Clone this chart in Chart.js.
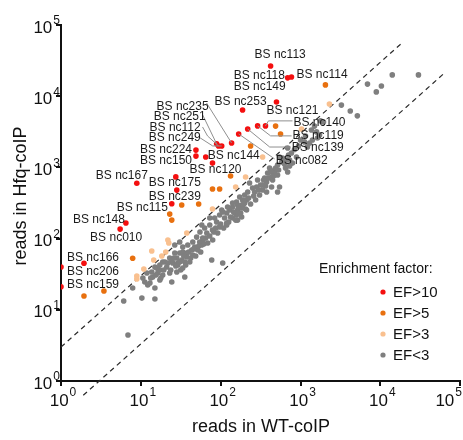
<!DOCTYPE html>
<html>
<head>
<meta charset="utf-8">
<script src="https://cdn.jsdelivr.net/npm/chart.js@4.4.1/dist/chart.umd.min.js"></script>
<style>
  html, body { margin: 0; padding: 0; background: #fff; }
</style>
</head>
<body>
<canvas id="chart" width="463" height="440"></canvas>
<script>
// reads in WT-coIP (x) vs reads in Hfq-coIP (y), one list per enrichment class
const efAbove10 = [
  [422, 26500], [690, 18100], [770, 18600], [500, 8300], [188, 6400],
  [218, 3460], [290, 3830], [364, 3830], [168, 2950], [137, 2200],
  [89, 2140], [94, 2000], [103, 2000], [49, 1750], [49, 1440],
  [65, 1400], [79, 1150], [8.9, 600], [27.4, 735], [28.2, 480],
  [24.4, 308], [6.5, 166], [5.5, 136], [1.94, 45], [1, 40], [1, 21]
];
const efAbove5 = [
  [2050, 14400], [487, 3800], [562, 2940], [237, 2000], [133, 757],
  [79, 497], [97, 497], [32.5, 296], [53, 306], [23, 221], [24.4, 182],
  [7.9, 53], [1.94, 15.6], [3.45, 18.4]
];
const efAbove3 = [
  [2300, 7770], [1030, 3460], [335, 1400], [205, 733], [154, 531],
  [79, 261], [37.6, 120], [21.8, 95.6], [22.4, 86.7], [13.7, 67],
  [20.5, 64.9], [18.3, 57], [14.5, 50], [10.9, 37.4], [8.9, 29.8], [8.9, 27.1]
];
const efBelow3 = [
  [30000, 19900], [14100, 19900], [6900, 14800], [10300, 13900], [8900, 11500],
  [3250, 7500], [4200, 6200], [5150, 5300],
  [1780, 4500], [1940, 4350], [1370, 3350], [1590, 3150], [1730, 2850],
  [1410, 2430], [1120, 2280], [1300, 2200], [1220, 1940], [690, 1870],
  [770, 1590], [890, 1400], [670, 1270], [546, 1400], [580, 1190],
  [630, 1115], [730, 1270], [794, 1150], [690, 862], [730, 1047],
  [516, 1080], [473, 919],
  [387, 834], [434, 733], [473, 862], [516, 782], [447, 665], [290, 665],
  [335, 566], [376, 624], [282, 531], [230, 604], [251, 514], [218, 451],
  [200, 409], [173, 384], [188, 348], [158, 326], [183, 296], [307, 409],
  [434, 531], [410, 981], [355, 710], [335, 482], [266, 451], [211, 348],
  [163, 296], [141, 278], [130, 252], [119, 229], [97, 214], [103, 252],
  [84, 195], [73, 195], [546, 531], [516, 451], [376, 451],
  [141, 316], [122, 278], [106, 236], [89, 171], [73, 155], [63, 141],
  [58, 155], [67, 120], [55, 124], [50, 105], [60, 95.5], [44.7, 89.5],
  [38.7, 81.3], [33.5, 76.2], [43.4, 69.2], [37.6, 62.8], [30.7, 62.8],
  [28.2, 53.4], [32.5, 50], [25.1, 45.4], [23, 53.4], [21.1, 39.9],
  [18.8, 46.9], [17.3, 36.2], [15, 39.9], [13.7, 34], [11.9, 32.9],
  [10.6, 28], [150, 229], [163, 252], [119, 155], [79, 132], [97, 146],
  [10.3, 14.6], [15, 14.2], [15, 20.2], [11.2, 24.6], [13, 23.8],
  [14.1, 28.9], [16.3, 32.9], [17.3, 26.2], [18.8, 30.8], [24.4, 24.6],
  [23, 32.9], [28.2, 34], [29, 45.4], [33.5, 38.6], [35.5, 28.9],
  [37.6, 55.2], [41, 46.9], [44.7, 58.9], [47.3, 76.2], [51.6, 69.2],
  [57.9, 81.3], [33.5, 64.9], [26.6, 62.8], [24.4, 50], [20, 46.9],
  [17.3, 42.6], [15.8, 38.6], [26.6, 81.3], [30.7, 89.5], [77.2, 50],
  [106, 45.4], [16.8, 36.2], [29, 42.6], [35.5, 46.9], [54.6, 89.5],
  [59.6, 102], [119, 166], [141, 195], [158, 214],
  [7.9, 20.2], [6.1, 13.3], [6.9, 4.43],
  [188, 269], [211, 252], [168, 229], [183, 201], [163, 182], [200, 316],
  [12.2, 22.3], [13.3, 28], [15.4, 30.8], [17.8, 28], [19.4, 36.2],
  [21.8, 45.4], [23.7, 36.2], [25.9, 53.4], [27.4, 41.2], [30.7, 46.9],
  [31.6, 36.2], [34.5, 57], [36.5, 42.6], [39.8, 64.9], [42.2, 53.4],
  [46, 71.5], [48.7, 57], [53.1, 78.7], [56.2, 64.9], [61.3, 84],
  [64.9, 102], [68.8, 86.7], [72.9, 109], [79.4, 95.5], [81.8, 124],
  [86.6, 141], [91.7, 120], [100, 160], [109, 141], [112, 195],
  [126, 171], [133, 201], [145, 236], [154, 182], [168, 269],
  [178, 229], [194, 306], [205, 261], [224, 372], [237, 306],
  [259, 396], [274, 348], [299, 482], [316, 566], [345, 665],
  [365, 548], [398, 710], [422, 862], [460, 757], [487, 981],
  [531, 919], [596, 1355], [649, 981], [708, 1494], [841, 1780],
  [944, 2000], [1000, 2430], [1155, 2760], [1496, 3800], [1631, 2590]
];

// 3-fold lines (y = 3x and y = x/3)
const foldUp = [[1, 3], [18000, 54000]];
const foldDown = [[1.9, 0.63], [63000, 21000]];

const xTicks = [1, 10, 100, 1000, 10000, 100000];
const yTicks = [1, 10, 100, 1000, 10000, 100000];

const classNames = ["EF>10", "EF>5", "EF>3", "EF<3"];
const legendTitle = "Enrichment factor:";
const xTitle = "reads in WT-coIP";
const yTitle = "reads in Hfq-coIP";

// labelled sRNAs and the index of their point in efAbove10
const labelNames = [
  "BS nc113", "BS nc118", "BS nc149", "BS nc114", "BS nc253", "BS nc121",
  "BS nc140", "BS nc119", "BS nc139", "BS nc082", "BS nc235", "BS nc251",
  "BS nc112", "BS nc249", "BS nc224", "BS nc150", "BS nc144", "BS nc120",
  "BS nc167", "BS nc175", "BS nc239", "BS nc115", "BS nc148", "BS nc010",
  "BS nc166", "BS nc206", "BS nc159"
];
const labelPoints = [0, 1, 1, 2, 4, 3, 7, 6, 5, 8, 9, 10, 11, 12, 13, 14, 15, 16, 17, 18, 19, 20, 21, 22, 23, 24, 25];

// text offset (px) from the point, plus optional leader polyline
const labelLayout = [
  { dx: -16, dy: -11 }, { dx: -54, dy: -2.5 }, { dx: -54, dy: 9 }, { dx: 5, dy: -2 },
  { dx: -28, dy: -8 }, { dx: -10, dy: 8.5 },
  { dx: 28, dy: -3, leader: [[0, 0], [3, -5], [27, -5]] },
  { dx: 35, dy: 9.5, leader: [[0, 0], [13, 10], [34, 10]] },
  { dx: 44, dy: 19, leader: [[0, 0], [22, 18], [43, 18]] },
  { dx: 37, dy: 27, leader: [[0, 0], [36, 25]] },
  { dx: -75, dy: -36.5, leader: [[-25, -40], [0, 0]] },
  { dx: -63, dy: -27, leader: [[-14, -29], [0, 0]] },
  { dx: -69, dy: -18.5, leader: [[-16, -19], [-11, -10], [0, 0]] },
  { dx: -73, dy: -8, leader: [[-23, -9], [-9, 0], [0, 0]] },
  { dx: -56, dy: 0 }, { dx: -56, dy: 4.5 }, { dx: 2, dy: -1 }, { dx: -23, dy: 7 },
  { dx: -41, dy: -7.5 }, { dx: -27, dy: 6 }, { dx: -28, dy: 6.5 }, { dx: -55, dy: 3.5 },
  { dx: -53, dy: -3 }, { dx: -30, dy: 9 }, { dx: -17, dy: -5.5 }, { dx: 6, dy: 5 }, { dx: 6, dy: -2.5 }
];

const colors = ["#f40f0f", "#e8700f", "#f9c08f", "#7f7f7f"];
const FONT = "'Liberation Sans', Arial, sans-serif";

const toXY = (arr) => arr.map(([x, y]) => ({ x, y }));

const pointSet = (data, color) => ({
  data: toXY(data),
  backgroundColor: color,
  borderWidth: 0,
  pointRadius: 2.8,
  pointHoverRadius: 2.8,
});

const foldLine = (data) => ({
  data: toXY(data),
  showLine: true,
  pointRadius: 0,
  borderColor: "#2a2a2a",
  borderWidth: 1.2,
  borderDash: [5, 4],
  clip: false,
});

// draws tick labels, titles, legend and the sRNA names
const overlay = {
  id: "overlay",
  afterDatasetsDraw(chart) {
    const { ctx, scales } = chart;
    const xs = scales.x, ys = scales.y;
    ctx.save();
    ctx.fillStyle = "#111";
    ctx.textBaseline = "middle";

    // x tick labels
    xTicks.forEach((v) => {
      const exp = String(Math.round(Math.log10(v)));
      ctx.font = "17px " + FONT;
      const w1 = ctx.measureText("10").width;
      ctx.font = "12px " + FONT;
      const w2 = ctx.measureText(exp).width;
      const total = w1 + w2 + 1;
      let left = xs.getPixelForValue(v) - total / 2 + 2;
      if (left + total > chart.width - 1) left = chart.width - 1 - total;
      ctx.textAlign = "left";
      ctx.font = "17px " + FONT;
      ctx.fillText("10", left, 401);
      ctx.font = "12px " + FONT;
      ctx.fillText(exp, left + w1 + 1, 393);
    });

    // y tick labels
    yTicks.forEach((v) => {
      const exp = String(Math.round(Math.log10(v)));
      const py = ys.getPixelForValue(v);
      ctx.textAlign = "right";
      ctx.font = "12px " + FONT;
      const w2 = ctx.measureText(exp).width;
      ctx.fillText(exp, 60, py - 4);
      ctx.font = "17px " + FONT;
      ctx.fillText("10", 60 - w2 - 1, py + 3);
    });

    // axis titles
    ctx.font = "18px " + FONT;
    ctx.textAlign = "center";
    ctx.fillText(xTitle, 261, 427);
    ctx.save();
    ctx.translate(21, 196);
    ctx.rotate(-Math.PI / 2);
    ctx.fillText(yTitle, 0, 0);
    ctx.restore();

    // legend
    ctx.textAlign = "left";
    ctx.font = "14px " + FONT;
    ctx.fillText(legendTitle, 319, 269);
    ctx.font = "15px " + FONT;
    classNames.forEach((name, i) => {
      const cy = 292 + i * 21;
      ctx.fillStyle = colors[i];
      ctx.beginPath();
      ctx.arc(383, cy, 2.6, 0, Math.PI * 2);
      ctx.fill();
      ctx.fillStyle = "#111";
      ctx.fillText(name, 393, cy + 1);
    });

    // sRNA labels
    ctx.strokeStyle = "#8f8f8f";
    ctx.lineWidth = 1;
    ctx.font = "12px " + FONT;
    labelNames.forEach((name, i) => {
      const [vx, vy] = efAbove10[labelPoints[i]];
      const px = xs.getPixelForValue(vx);
      const py = ys.getPixelForValue(vy);
      const lay = labelLayout[i];
      if (lay.leader) {
        ctx.beginPath();
        lay.leader.forEach(([dx, dy], k) => {
          if (k === 0) ctx.moveTo(px + dx, py + dy);
          else ctx.lineTo(px + dx, py + dy);
        });
        ctx.stroke();
      }
      ctx.fillStyle = "#1b1b1b";
      ctx.fillText(name, px + lay.dx, py + lay.dy);
    });
    ctx.restore();
  },
};

const axisBase = (ticks) => ({
  type: "logarithmic",
  min: 1,
  max: 100000,
  afterBuildTicks: (s) => { s.ticks = ticks.map((v) => ({ value: v })); },
  ticks: { display: false },
  grid: { drawOnChartArea: false, drawTicks: true, tickLength: 5, color: "#111", lineWidth: 2 },
  border: { display: true, color: "#111", width: 2 },
});

new Chart(document.getElementById("chart"), {
  type: "scatter",
  data: {
    datasets: [
      pointSet(efAbove10, colors[0]),
      pointSet(efAbove5, colors[1]),
      pointSet(efAbove3, colors[2]),
      pointSet(efBelow3, colors[3]),
      foldLine(foldUp),
      foldLine(foldDown),
    ],
  },
  options: {
    responsive: false,
    animation: false,
    devicePixelRatio: 1,
    layout: { padding: { top: 25, right: 2, left: 0, bottom: 0 } },
    plugins: { legend: { display: false }, tooltip: { enabled: false } },
    scales: {
      x: { ...axisBase(xTicks), position: "bottom", afterFit: (s) => { s.height = 59; } },
      y: { ...axisBase(yTicks), position: "left", afterFit: (s) => { s.width = 61; } },
    },
  },
  plugins: [overlay],
});
</script>
</body>
</html>
